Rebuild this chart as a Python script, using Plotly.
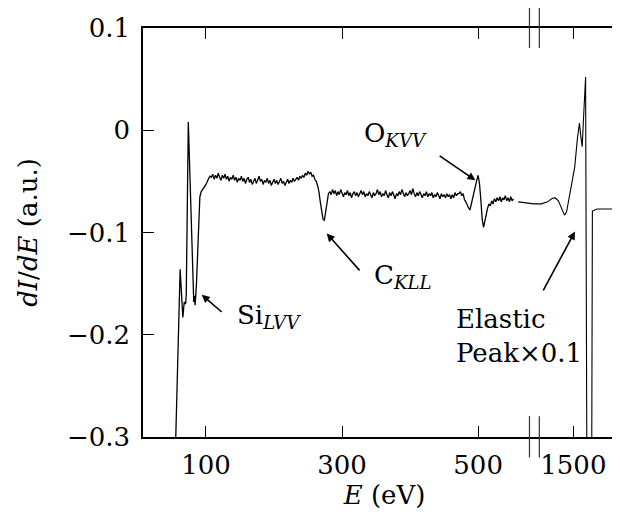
import plotly.graph_objects as go

# the 1500 eV window is drawn right after the axis break, shifted left by this much
SHIFT = 860

# Si LVV region (irregular sampling)
si_E = [54, 62, 64, 66, 68, 70, 71, 74, 78, 81, 82, 83, 84, 86, 89, 91, 93, 96, 100, 104, 106]
si_dIdE = [-0.34, -0.136, -0.160, -0.183, -0.168, -0.170, -0.160, 0.008, -0.080, -0.160, -0.168,
           -0.162, -0.171, -0.150, -0.100, -0.065, -0.060, -0.057, -0.053, -0.047, -0.045]

# noisy part of the spectrum, 2 eV steps from 108 eV to 552 eV
noisy_start = 108
noisy_step = 2
noisy_dIdE = [
    -0.046, -0.043, -0.048, -0.044, -0.047, -0.042, -0.046, -0.049, -0.044, -0.047,
    -0.043, -0.048, -0.045, -0.050, -0.046, -0.048, -0.044, -0.049, -0.046, -0.051,
    -0.047, -0.049, -0.045, -0.050, -0.047, -0.052, -0.048, -0.046, -0.051, -0.048,
    -0.053, -0.049, -0.047, -0.052, -0.049, -0.045, -0.050, -0.048, -0.053, -0.049,
    -0.051, -0.047, -0.052, -0.049, -0.054, -0.050, -0.048, -0.052, -0.049, -0.053,
    -0.050, -0.047, -0.052, -0.050, -0.054, -0.051, -0.048, -0.052, -0.049, -0.051,
    -0.047, -0.050, -0.048, -0.046, -0.049, -0.045, -0.047, -0.044, -0.046, -0.042,
    -0.044, -0.040, -0.043, -0.041, -0.045, -0.044, -0.048, -0.050, -0.054, -0.060,
    -0.070, -0.080, -0.087, -0.088, -0.080, -0.070, -0.062, -0.060, -0.063, -0.058,
    -0.062, -0.059, -0.064, -0.060, -0.063, -0.058, -0.062, -0.065, -0.061, -0.063,
    -0.059, -0.064, -0.061, -0.066, -0.062, -0.060, -0.064, -0.061, -0.065, -0.062,
    -0.059, -0.063, -0.060, -0.065, -0.062, -0.064, -0.060, -0.063, -0.066, -0.061,
    -0.064, -0.062, -0.058, -0.063, -0.060, -0.065, -0.062, -0.064, -0.059, -0.063,
    -0.066, -0.061, -0.064, -0.060, -0.063, -0.067, -0.062, -0.064, -0.060, -0.063,
    -0.058, -0.062, -0.065, -0.061, -0.064, -0.062, -0.059, -0.063, -0.057, -0.062,
    -0.065, -0.061, -0.064, -0.060, -0.063, -0.066, -0.062, -0.064, -0.060, -0.065,
    -0.062, -0.064, -0.061, -0.066, -0.063, -0.065, -0.061, -0.064, -0.067, -0.062,
    -0.065, -0.063, -0.066, -0.062, -0.065, -0.063, -0.067, -0.063, -0.066, -0.061,
    -0.064, -0.062, -0.062, -0.060, -0.064, -0.062, -0.068, -0.070, -0.074, -0.076,
    -0.078, -0.072, -0.065, -0.058, -0.054, -0.049, -0.044, -0.052, -0.068, -0.087,
    -0.095, -0.088, -0.080, -0.076, -0.072, -0.074, -0.069, -0.072, -0.067, -0.070,
    -0.066, -0.069, -0.065, -0.070, -0.066, -0.068, -0.064, -0.069, -0.066, -0.070,
    -0.065, -0.069, -0.067,
]

# elastic peak region (x0.1), real energies
el_E = [1419, 1430, 1442, 1453, 1462, 1468, 1473, 1478, 1483, 1487, 1490, 1494, 1498, 1502,
        1506, 1509, 1511, 1513, 1515, 1518, 1520.5, 1526.5, 1528, 1535, 1580]
el_dIdE = [-0.070, -0.071, -0.072, -0.072, -0.070, -0.067, -0.066, -0.069, -0.077, -0.083,
           -0.080, -0.066, -0.050, -0.036, -0.008, 0.007, -0.006, -0.016, 0.012, 0.052,
           -0.45, -0.45, -0.079, -0.077, -0.077]

tick_E = [100, 300, 500, 1500]
y_ticks = [-0.3, -0.2, -0.1, 0, 0.1]

noisy_E = [noisy_start + noisy_step * i for i in range(len(noisy_dIdE))]
low_E = si_E + noisy_E
low_dIdE = si_dIdE + noisy_dIdE
el_x = [e - SHIFT for e in el_E]

FONT = dict(family="DejaVu Serif", size=26, color="black")
line = dict(color="black", width=1.3)

fig = go.Figure()
fig.add_trace(go.Scatter(x=low_E, y=low_dIdE, mode="lines", line=line, hoverinfo="skip"))
fig.add_trace(go.Scatter(x=el_x, y=el_dIdE, mode="lines", line=dict(color="black", width=1.1),
                         hoverinfo="skip"))

xr = [7.4, 717.4]
yr = [-0.3, 0.1]

fig.update_layout(
    width=620, height=520,
    margin=dict(l=135, r=0, t=20, b=91),
    plot_bgcolor="white", paper_bgcolor="white",
    showlegend=False,
    font=FONT,
    xaxis=dict(
        range=xr, showgrid=False, zeroline=False,
        showline=True, linecolor="black", linewidth=1.5, mirror="ticks",
        ticks="inside", ticklen=11, tickwidth=1, tickcolor="black",
        tickvals=[e if e < 1000 else e - SHIFT for e in tick_E],
        ticktext=[str(e) for e in tick_E],
        ticklabelstandoff=4,
        title=dict(text="<i>E</i> (eV)", standoff=6, font=FONT),
    ),
    yaxis=dict(
        range=yr, showgrid=False, zeroline=False,
        showline=True, linecolor="black", linewidth=1.5, mirror="ticks",
        ticks="inside", ticklen=11, tickwidth=1, tickcolor="black",
        tickvals=y_ticks,
        ticktext=["\u22120.3", "\u22120.2", "\u22120.1", "0", "0.1"],
        ticklabelstandoff=6,
        title=dict(text="<i>dI</i>/<i>dE</i> (a.u.)", standoff=22, font=FONT),
    ),
)

# axis break marks
for xb in [575.5, 590]:
    for y0, y1 in [(0.951, 1.051), (-0.050, 0.051)]:
        fig.add_shape(type="line", xref="x", yref="paper", x0=xb, x1=xb, y0=y0, y1=y1,
                      line=dict(color="#333", width=1.2))

# labels and arrows
labels = [
    ("Si<sub><i>LVV</i></sub>", 142.4, -0.182),
    ("C<sub><i>KLL</i></sub>", 344.3, -0.143),
    ("O<sub><i>KVV</i></sub>", 329.7, -0.004),
    ("Elastic<br>Peak\u00d70.1", 464.3, -0.201),
]
for txt, x, y in labels:
    fig.add_annotation(text=txt, x=x, y=y, xref="x", yref="y", showarrow=False,
                       xanchor="left", yanchor="middle", align="left", font=FONT)

arrows = [
    (93.7, -0.161, 125.3, -0.179),
    (277.5, -0.101, 327.8, -0.1385),
    (496.0, -0.049, 441.3, -0.024),
    (642.4, -0.099, 594.6, -0.158),
]
for x, y, ax, ay in arrows:
    fig.add_annotation(text="", x=x, y=y, ax=ax, ay=ay, xref="x", yref="y",
                       axref="x", ayref="y", showarrow=True, arrowhead=2,
                       arrowsize=1, arrowwidth=1.6, arrowcolor="black")

fig.write_html("out.html")
